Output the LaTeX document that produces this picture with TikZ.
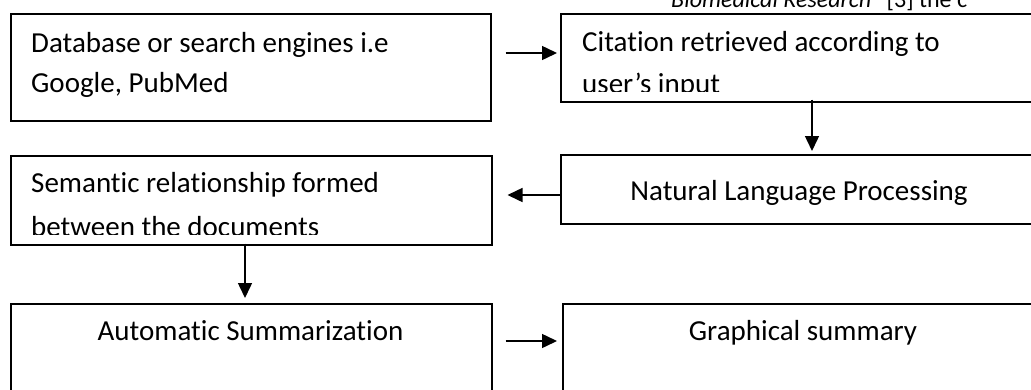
\documentclass[tikz,border=0pt]{standalone}
\usepackage{fontspec}
\setmainfont{Carlito}[Ligatures=CommonOff]
\usetikzlibrary{arrows.meta,calc}
\tikzset{
  box/.style={draw, line width=1.5pt, rectangle, inner sep=0pt, anchor=north west},
  txt/.style={inner sep=0pt, font=\fontsize{29}{34}\selectfont},
  arr/.style={line width=1.5pt, -{Triangle[length=15pt,width=14pt]}},
}
\begin{document}
\begin{tikzpicture}[x=1pt,y=-1pt]
\clip (0,0) rectangle (1031,389);
\fill[white] (0,0) rectangle (1031,389);
% header (clipped at the top edge, as in the reference)
\node[inner sep=0pt, font=\fontsize{24}{28}\selectfont, anchor=base west] (hdr) at (671,7) {\textit{Biomedical Research”} [3] the c};
% boxes
\node[box, minimum width=480pt, minimum height=107pt] (b1) at (10,13) {};
\node[box, minimum width=480pt, minimum height=88pt] (b2) at (560,13) {};
\node[box, minimum width=480pt, minimum height=69pt] (b3) at (560,154) {};
\node[box, minimum width=481pt, minimum height=89pt] (b4) at (10,155) {};
\node[box, minimum width=481pt, minimum height=100pt] (b5) at (10,303) {};
\node[box, minimum width=482pt, minimum height=100pt] (b6) at (562,303) {};
% texts
\node[txt, anchor=base west] (t1a) at (31,52) {Database or search engines i.e};
\node[txt, anchor=base west] (t1b) at (31,92) {Google, PubMed};
\node[txt, anchor=base west] (t2a) at (582,51) {Citation retrieved according to};
\begin{scope}
\clip (561,60) rectangle (1031,91);
\node[txt, anchor=base west] (t2b) at (582,93) {user’s input};
\end{scope}
\node[txt, anchor=base] (t3) at (799,200) {Natural Language Processing};
\node[txt, anchor=base west] (t4a) at (31,192) {Semantic relationship formed};
\begin{scope}
\clip (11,200) rectangle (490,234);
\node[txt, anchor=base west] (t4b) at (31,236) {between the documents};
\end{scope}
\node[txt, anchor=base] (t5) at (250.5,340) {Automatic Summarization};
\node[txt, anchor=base] (t6) at (803,340) {Graphical summary};
% connector end points
\coordinate (a1s) at ($(b1.north east)+(14,40)$);
\coordinate (a1e) at ($(b2.north west)+(-3,40)$);
\coordinate (a2s) at ($(b2.south west)+(252,-3)$);
\coordinate (a2e) at ($(b3.north west)+(252,-3)$);
\coordinate (a3s) at ($(b3.north west)+(0,41)$);
\coordinate (a3e) at ($(b4.north east)+(15,40)$);
\coordinate (a4s) at ($(b4.south west)+(235,-2)$);
\coordinate (a4e) at ($(b5.north west)+(235,-5)$);
\coordinate (a5s) at ($(b5.north east)+(13,38)$);
\coordinate (a5e) at ($(b6.north west)+(-5,38)$);
\draw[arr] (a1s) -- (a1e);
\draw[arr] (a2s) -- (a2e);
\draw[arr] (a3s) -- (a3e);
\draw[arr] (a4s) -- (a4e);
\draw[arr] (a5s) -- (a5e);
\end{tikzpicture}
\end{document}
